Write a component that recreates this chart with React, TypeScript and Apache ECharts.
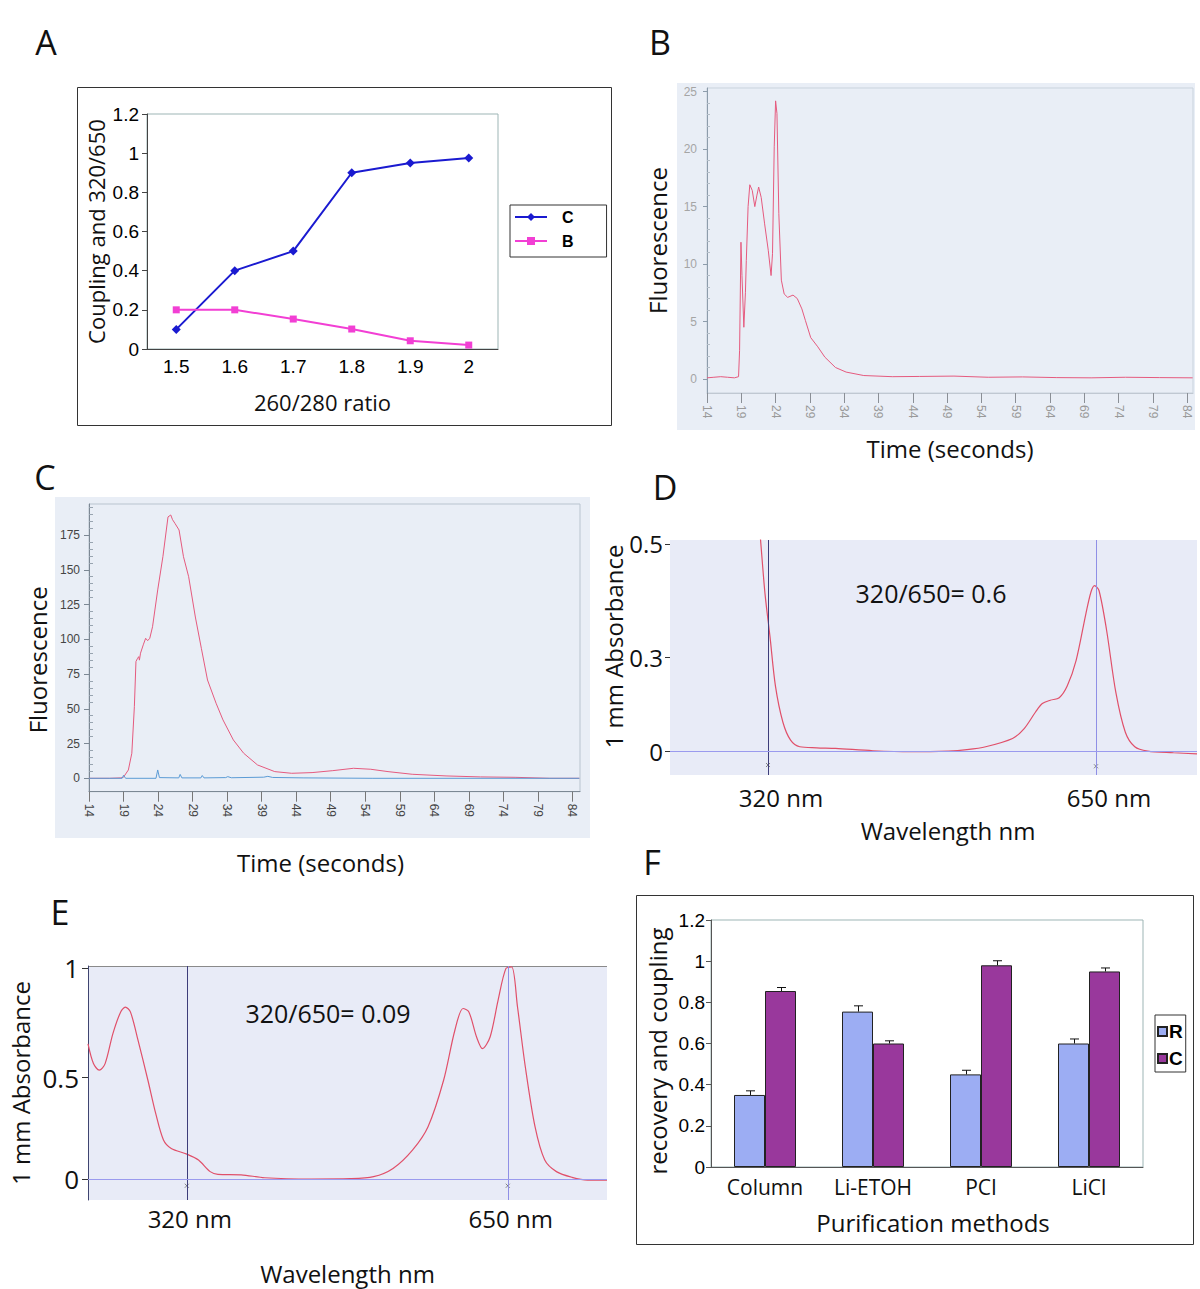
import React, { useEffect, useRef } from 'react';
import * as echarts from 'echarts';

const TITLE_FONT = '"Open Sans", "Noto Sans", sans-serif';
const TICK_FONT = '"Liberation Sans", Arial, sans-serif';

// ---------- Panel A ----------
const ratioCategories = ['1.5', '1.6', '1.7', '1.8', '1.9', '2'];
const couplingSeriesC = [0.1, 0.4, 0.5, 0.9, 0.95, 0.975];
const ratioSeriesB = [0.2, 0.2, 0.153, 0.102, 0.042, 0.02];

// ---------- Panel B ----------
const timeTicks = [14, 19, 24, 29, 34, 39, 44, 49, 54, 59, 64, 69, 74, 79, 84];
const fluorTicksB = [0, 5, 10, 15, 20, 25];
const fluorMinorTicksB = [1, 2, 3, 4, 6, 7, 8, 9, 11, 12, 13, 14, 16, 17, 18, 19, 21, 22, 23, 24];
const fluorescenceB: [number, number][] = [
  [14, 0.1], [15, 0.15], [16, 0.2], [17, 0.15], [18, 0.1], [18.6, 0.2], [18.75, 2.5], [18.95, 11.9],
  [19.1, 9], [19.37, 4.5], [19.6, 7.5], [19.73, 10.3], [19.99, 15], [20.24, 16.9], [20.6, 16.4],
  [20.97, 15], [21.28, 16], [21.53, 16.7], [21.9, 15.8], [22.4, 13.5], [22.93, 11.2], [23.34, 9.0],
  [23.55, 10.9], [23.8, 20.2], [24.0, 24.2], [24.2, 23.1], [24.47, 14.4], [24.84, 8.6], [25.25, 7.4],
  [25.76, 7.1], [26.54, 7.3], [27.16, 7.0], [27.83, 6.1], [28.34, 5.1], [29.12, 3.6], [30.15, 2.8],
  [31.18, 1.9], [32.73, 1.0], [34.28, 0.6], [36.86, 0.3], [41, 0.2], [45, 0.22], [50, 0.25],
  [55, 0.15], [60, 0.18], [65, 0.12], [70, 0.1], [75, 0.15], [80, 0.12], [84.8, 0.1],
];

// ---------- Panel C ----------
const fluorTicksC = [0, 25, 50, 75, 100, 125, 150, 175];
const fluorMinorTicksC = [5, 10, 15, 20, 30, 35, 40, 45, 55, 60, 65, 70, 80, 85, 90, 95, 105, 110, 115, 120,
  130, 135, 140, 145, 155, 160, 165, 170, 180, 185, 190, 195];
const fluorescenceCRed: [number, number][] = [
  [14, 0], [17, 0], [18.6, 0.3], [18.98, 0.7], [19.7, 6], [20.2, 18], [20.57, 51.5], [20.8, 84],
  [21.0, 86], [21.2, 87.5], [21.3, 85], [21.46, 90], [21.86, 96], [22.2, 100.7], [22.5, 99],
  [22.8, 100.7], [23.2, 109], [23.95, 135.5], [24.7, 159.4], [25.44, 188], [25.84, 189.4],
  [26.1, 186], [26.44, 183.4], [27.04, 178.6], [27.68, 159.4], [28.43, 145], [29.4, 116],
  [30.27, 93.5], [31.16, 70.7], [32.4, 54], [33.4, 42], [34.9, 27.6], [36.4, 18], [38.4, 9.6],
  [40.9, 4.8], [43.35, 3.6], [46.3, 4.1], [49.3, 5.5], [52.3, 7.2], [54.8, 6.5], [57.3, 4.8],
  [60.8, 2.9], [65.7, 1.7], [70.7, 1], [75.7, 0.7], [80.7, 0], [85, 0],
];
const fluorescenceCBlue: [number, number][] = [
  [14, 0], [18.8, 0], [19.0, 2.2], [19.3, 0], [23.7, 0], [23.95, 6], [24.2, 0.5], [27.0, 0.3],
  [27.2, 2.8], [27.45, 0.3], [30.2, 0.3], [30.4, 2], [30.65, 0.3], [33.8, 0.5], [34.1, 1.2],
  [34.6, 0.4], [39.3, 0.8], [39.9, 1.4], [40.6, 0.6], [45, 0.3], [55, 0], [85, 0],
];

// ---------- Panel D ----------
const markWavelengths = [320, 650];
const absTicksD = [0, 0.228, 0.5];
const absTickLabelsD = ['0', '0.3', '0.5'];
const ratioTextD = '320/650= 0.6';
const spectrumD: [number, number][] = [
  [306, 0.7], [312.5, 0.51], [317, 0.38], [322, 0.277], [327.5, 0.158], [335, 0.071], [342.7, 0.028],
  [352, 0.012], [369, 0.0095], [388, 0.008], [425.6, 0.0024], [464, 0], [501.7, 0.0016], [520, 0.005],
  [539, 0.012], [566, 0.032], [577.5, 0.055], [589, 0.095], [596, 0.116], [604, 0.124], [613, 0.13],
  [621, 0.158], [630, 0.22], [639.8, 0.332], [645, 0.385], [648.5, 0.4], [653, 0.388], [660.6, 0.293],
  [670, 0.142], [679.5, 0.047], [689, 0.012], [702, 0.0016], [728, -0.0024], [751.6, -0.005],
];
const crossMarksD: [number, number][] = [[320, -0.032], [650, -0.035]];

// ---------- Panel E ----------
const absTicksE = [0, 0.48, 1];
const absTickLabelsE = ['0', '0.5', '1'];
const ratioTextE = '320/650= 0.09';
const spectrumE: [number, number][] = [
  [218.4, 0.64], [224, 0.547], [230, 0.516], [236, 0.547], [244, 0.689], [252, 0.792], [256.8, 0.815],
  [262, 0.792], [269.8, 0.658], [280, 0.468], [288, 0.311], [296, 0.185], [304, 0.145], [320, 0.118],
  [332, 0.09], [344, 0.035], [352, 0.022], [375.8, 0.02], [400, 0.006], [447.8, 0], [487.8, 0.0016],
  [512, 0.011], [532, 0.05], [552, 0.137], [568, 0.248], [584, 0.468], [595.6, 0.705], [604, 0.808],
  [610, 0.792], [617.9, 0.673], [624, 0.618], [631.8, 0.673], [640, 0.847], [648, 0.997], [654, 1.005],
  [660, 0.815], [668, 0.532], [678, 0.248], [688, 0.09], [700, 0.035], [716, 0.008], [732, -0.005],
  [752, -0.005],
];
const crossMarksE: [number, number][] = [[320, -0.032], [650, -0.032]];

// ---------- Panel F ----------
const methods = ['Column', 'Li-ETOH', 'PCI', 'LiCl'];
const recoveryR = [0.35, 0.755, 0.45, 0.6];
const couplingCF = [0.855, 0.6, 0.98, 0.95];
const errorR = [0.02, 0.028, 0.02, 0.022];
const errorC = [0.017, 0.013, 0.022, 0.017];

const BAR_WIDTH = 31;

const pickLabel = (vals: number[], labels: string[]) => (v: number) => {
  const i = vals.findIndex((x) => Math.abs(x - v) < 1e-6);
  return i >= 0 ? labels[i] : '';
};

const titleStyle = (size: number, padding?: number[]) => ({
  fontFamily: TITLE_FONT,
  fontSize: size,
  color: '#111',
  ...(padding ? { padding } : {}),
});

function buildOption(): any {
  const errData: number[][] = [];
  methods.forEach((_, i) => {
    errData.push([i, recoveryR[i], errorR[i], -1]);
    errData.push([i, couplingCF[i], errorC[i], 1]);
  });

  const letter = (t: string, x: number, y: number) => ({
    type: 'text',
    x,
    y,
    style: {
      text: t,
      font: `34px ${TITLE_FONT}`,
      fill: '#111',
      textAlign: 'center',
      textVerticalAlign: 'middle',
    },
  });

  return {
    animation: false,
    backgroundColor: '#ffffff',
    grid: [
      { left: 147, top: 114, width: 351, height: 235, show: true, borderColor: '#9db5b5', borderWidth: 1 },
      { left: 707, top: 88, width: 486, height: 305, show: true, borderColor: '#c9d3dd', borderWidth: 1 },
      { left: 89, top: 504, width: 491, height: 287.7, show: true, borderColor: '#b9c4cf', borderWidth: 1 },
      { left: 670, top: 540, width: 527, height: 235 },
      { left: 88, top: 966, width: 519, height: 234 },
      { left: 711, top: 920, width: 432, height: 247, show: true, borderColor: '#9db5b5', borderWidth: 1 },
    ],
    legend: [
      {
        data: ['A:C', 'A:B'],
        formatter: (n: string) => n.slice(2),
        orient: 'vertical',
        left: 510,
        top: 205,
        itemWidth: 32,
        itemHeight: 10,
        itemGap: 8,
        padding: [4, 33, 8, 4],
        borderColor: '#333',
        borderWidth: 1,
        selectedMode: false,
        textStyle: { fontFamily: TICK_FONT, fontWeight: 'bold', fontSize: 16, color: '#000', padding: [0, 0, 0, 10] },
      },
      {
        data: ['F:R', 'F:C'],
        formatter: (n: string) => n.slice(2),
        orient: 'vertical',
        left: 1155,
        top: 1015,
        icon: 'rect',
        itemWidth: 9,
        itemHeight: 9,
        itemGap: 8,
        padding: [7, 3, 4, 2],
        borderColor: '#333',
        borderWidth: 1,
        selectedMode: false,
        textStyle: { fontFamily: TICK_FONT, fontWeight: 'bold', fontSize: 19, color: '#000', padding: [0, 0, 0, -3] },
      },
    ],
    xAxis: [
      {
        gridIndex: 0,
        type: 'category',
        data: ratioCategories,
        axisLine: { lineStyle: { color: '#444' } },
        axisTick: { length: 5, lineStyle: { color: '#444' } },
        axisLabel: { color: '#000', fontFamily: TICK_FONT, fontSize: 19, margin: 8 },
        name: '260/280 ratio',
        nameLocation: 'middle',
        nameGap: 42,
        nameTextStyle: titleStyle(22),
      },
      {
        gridIndex: 1,
        type: 'value',
        min: 14,
        max: 84.85,
        axisLine: { show: true, onZero: false, lineStyle: { color: '#c0c8d2' } },
        axisTick: { show: true, customValues: timeTicks, length: 10, lineStyle: { color: '#8a8f96' } },
        axisLabel: { customValues: timeTicks, rotate: -90, color: '#9a9a9a', fontSize: 12, fontFamily: TICK_FONT, margin: 12 },
        splitLine: { show: false },
        name: 'Time (seconds)',
        nameLocation: 'middle',
        nameGap: 43,
        nameTextStyle: titleStyle(24),
      },
      {
        gridIndex: 2,
        type: 'value',
        min: 14,
        max: 85.1,
        axisLine: { show: true, onZero: false, lineStyle: { color: '#7c8894' } },
        axisTick: { show: true, customValues: timeTicks, length: 10, lineStyle: { color: '#777' } },
        axisLabel: { customValues: timeTicks, rotate: -90, color: '#444', fontSize: 12, fontFamily: TICK_FONT, margin: 12 },
        splitLine: { show: false },
        name: 'Time (seconds)',
        nameLocation: 'middle',
        nameGap: 59,
        nameTextStyle: titleStyle(24, [0, 28, 0, 0]),
      },
      {
        gridIndex: 3,
        type: 'value',
        min: 221.4,
        max: 751.6,
        axisLine: { show: false, onZero: false },
        axisTick: { show: false },
        axisLabel: {
          customValues: markWavelengths,
          formatter: (v: number) => `${v} nm`,
          fontFamily: TITLE_FONT,
          fontSize: 24,
          color: '#111',
          margin: 10,
          padding: [0, 0, 0, 26],
        },
        splitLine: { show: false },
        name: 'Wavelength nm',
        nameLocation: 'middle',
        nameGap: 43,
        nameTextStyle: titleStyle(24, [0, 0, 0, 29]),
      },
      {
        gridIndex: 4,
        type: 'value',
        min: 218.4,
        max: 752,
        axisLine: { show: false, onZero: false },
        axisTick: { show: false },
        axisLabel: {
          customValues: markWavelengths,
          formatter: (v: number) => `${v} nm`,
          fontFamily: TITLE_FONT,
          fontSize: 24,
          color: '#111',
          margin: 6,
          padding: [0, 0, 0, 6],
        },
        splitLine: { show: false },
        name: 'Wavelength nm',
        nameLocation: 'middle',
        nameGap: 61,
        nameTextStyle: titleStyle(24),
      },
      {
        gridIndex: 5,
        type: 'category',
        data: methods,
        axisLine: { lineStyle: { color: '#555' } },
        axisTick: { length: 6, lineStyle: { color: '#555' } },
        axisLabel: { color: '#111', fontFamily: TITLE_FONT, fontSize: 21, margin: 9 },
        name: 'Purification methods',
        nameLocation: 'middle',
        nameGap: 43,
        nameTextStyle: titleStyle(24, [0, 0, 0, 12]),
      },
    ],
    yAxis: [
      {
        gridIndex: 0,
        type: 'value',
        min: 0,
        max: 1.2,
        interval: 0.2,
        axisLine: { show: true, lineStyle: { color: '#444' } },
        axisTick: { show: true, length: 5, lineStyle: { color: '#444' } },
        splitLine: { show: false },
        axisLabel: { fontFamily: TICK_FONT, fontSize: 19, color: '#000', margin: 8 },
        name: 'Coupling and 320/650',
        nameLocation: 'middle',
        nameGap: 40,
        nameTextStyle: titleStyle(22),
      },
      {
        gridIndex: 1,
        type: 'value',
        position: 'left',
        min: -1.22,
        max: 25.32,
        axisLine: { show: true, onZero: false, lineStyle: { color: '#8d9cab' } },
        axisTick: { show: true, customValues: fluorTicksB, length: 4, lineStyle: { color: '#8d9cab' } },
        axisLabel: { customValues: fluorTicksB, color: '#a5a5a5', fontSize: 12, fontFamily: TICK_FONT, margin: 10 },
        splitLine: { show: false },
        name: 'Fluorescence',
        nameLocation: 'middle',
        nameGap: 38,
        nameTextStyle: titleStyle(24),
      },
      {
        gridIndex: 1,
        type: 'value',
        position: 'left',
        min: -1.22,
        max: 25.32,
        axisLine: { show: false, onZero: false },
        axisTick: { show: true, inside: true, customValues: fluorMinorTicksB, length: 3, lineStyle: { color: '#b4bec8' } },
        axisLabel: { show: false },
        splitLine: { show: false },
      },
      {
        gridIndex: 2,
        type: 'value',
        position: 'left',
        min: -9.64,
        max: 197.3,
        axisLine: { show: true, onZero: false, lineStyle: { color: '#7c8894' } },
        axisTick: { show: true, customValues: fluorTicksC, length: 5, lineStyle: { color: '#7c8894' } },
        axisLabel: { customValues: fluorTicksC, color: '#444', fontSize: 12, fontFamily: TICK_FONT, margin: 9 },
        splitLine: { show: false },
        name: 'Fluorescence',
        nameLocation: 'middle',
        nameGap: 40,
        nameTextStyle: titleStyle(24, [0, 24, 0, 0]),
      },
      {
        gridIndex: 2,
        type: 'value',
        position: 'left',
        min: -9.64,
        max: 197.3,
        axisLine: { show: false, onZero: false },
        axisTick: { show: true, inside: true, customValues: fluorMinorTicksC, length: 4, lineStyle: { color: '#98a4b0' } },
        axisLabel: { show: false },
        splitLine: { show: false },
      },
      {
        gridIndex: 3,
        type: 'value',
        min: -0.056,
        max: 0.5096,
        axisLine: { show: false, onZero: false },
        axisTick: { show: true, customValues: absTicksD, length: 5, lineStyle: { color: '#333' } },
        axisLabel: {
          customValues: absTicksD,
          formatter: pickLabel(absTicksD, absTickLabelsD),
          fontFamily: TITLE_FONT,
          fontSize: 24,
          color: '#111',
          margin: 7,
        },
        splitLine: { show: false },
        name: '1 mm Absorbance',
        nameLocation: 'middle',
        nameGap: 36,
        nameTextStyle: titleStyle(24, [0, 0, 0, 22]),
      },
      {
        gridIndex: 4,
        type: 'value',
        min: -0.0995,
        max: 1.0095,
        axisLine: { show: true, onZero: false, lineStyle: { color: '#3e4470' } },
        axisTick: { show: true, customValues: absTicksE, length: 6, lineStyle: { color: '#333' } },
        axisLabel: {
          customValues: absTicksE,
          formatter: pickLabel(absTicksE, absTickLabelsE),
          fontFamily: TITLE_FONT,
          fontSize: 26,
          color: '#111',
          margin: 9,
        },
        splitLine: { show: false },
        name: '1 mm Absorbance',
        nameLocation: 'middle',
        nameGap: 56,
        nameTextStyle: titleStyle(24),
      },
      {
        gridIndex: 5,
        type: 'value',
        min: 0,
        max: 1.2,
        interval: 0.2,
        axisLine: { show: true, lineStyle: { color: '#555' } },
        axisTick: { show: true, length: 5, lineStyle: { color: '#555' } },
        splitLine: { show: false },
        axisLabel: { fontFamily: TICK_FONT, fontSize: 19, color: '#000', margin: 6 },
        name: 'recovery and coupling',
        nameLocation: 'middle',
        nameGap: 42,
        nameTextStyle: titleStyle(24, [0, 15, 0, 0]),
      },
    ],
    series: [
      {
        name: 'A:C',
        type: 'line',
        xAxisIndex: 0,
        yAxisIndex: 0,
        data: couplingSeriesC,
        color: '#1a1ad0',
        lineStyle: { width: 2, color: '#1a1ad0' },
        itemStyle: { color: '#1a1ad0' },
        symbol: 'diamond',
        symbolSize: 9,
      },
      {
        name: 'A:B',
        type: 'line',
        xAxisIndex: 0,
        yAxisIndex: 0,
        data: ratioSeriesB,
        color: '#f23fd4',
        lineStyle: { width: 2, color: '#f23fd4' },
        itemStyle: { color: '#f23fd4' },
        symbol: 'rect',
        symbolSize: 7,
      },
      {
        type: 'line',
        xAxisIndex: 1,
        yAxisIndex: 1,
        data: fluorescenceB,
        showSymbol: false,
        lineStyle: { color: '#e55a7e', width: 1 },
      },
      {
        type: 'line',
        xAxisIndex: 2,
        yAxisIndex: 3,
        data: fluorescenceCRed,
        showSymbol: false,
        lineStyle: { color: '#e55a7e', width: 1 },
      },
      {
        type: 'line',
        xAxisIndex: 2,
        yAxisIndex: 3,
        data: fluorescenceCBlue,
        showSymbol: false,
        lineStyle: { color: '#5b9bd5', width: 1 },
      },
      {
        type: 'line',
        xAxisIndex: 3,
        yAxisIndex: 5,
        data: spectrumD,
        smooth: 0.3,
        showSymbol: false,
        lineStyle: { color: '#e0506a', width: 1.2 },
        markLine: {
          silent: true,
          symbol: 'none',
          label: { show: false },
          data: [
            { xAxis: markWavelengths[0], lineStyle: { color: '#3d3d7a', width: 1, type: 'solid' } },
            { xAxis: markWavelengths[1], lineStyle: { color: '#8f8fe6', width: 1, type: 'solid' } },
            { yAxis: 0, lineStyle: { color: '#9a9aee', width: 1, type: 'solid' } },
          ],
        },
      },
      {
        type: 'scatter',
        xAxisIndex: 3,
        yAxisIndex: 5,
        data: crossMarksD,
        symbol: 'path://M0,0L10,10M10,0L0,10',
        symbolSize: 4,
        itemStyle: { color: 'none', borderColor: '#666', borderWidth: 1 },
      },
      {
        type: 'line',
        xAxisIndex: 4,
        yAxisIndex: 6,
        data: spectrumE,
        smooth: 0.3,
        showSymbol: false,
        lineStyle: { color: '#e0506a', width: 1.2 },
        markLine: {
          silent: true,
          symbol: 'none',
          label: { show: false },
          data: [
            { xAxis: markWavelengths[0], lineStyle: { color: '#3d3d7a', width: 1, type: 'solid' } },
            { xAxis: markWavelengths[1], lineStyle: { color: '#8f8fe6', width: 1, type: 'solid' } },
            { yAxis: 0, lineStyle: { color: '#9a9aee', width: 1, type: 'solid' } },
          ],
        },
      },
      {
        type: 'scatter',
        xAxisIndex: 4,
        yAxisIndex: 6,
        data: crossMarksE,
        symbol: 'path://M0,0L10,10M10,0L0,10',
        symbolSize: 4,
        itemStyle: { color: 'none', borderColor: '#666', borderWidth: 1 },
      },
      {
        name: 'F:R',
        type: 'bar',
        xAxisIndex: 5,
        yAxisIndex: 7,
        data: recoveryR,
        barWidth: BAR_WIDTH,
        barGap: '0%',
        itemStyle: { color: '#9cadf3', borderColor: '#222', borderWidth: 1 },
      },
      {
        name: 'F:C',
        type: 'bar',
        xAxisIndex: 5,
        yAxisIndex: 7,
        data: couplingCF,
        barWidth: BAR_WIDTH,
        barGap: '0%',
        itemStyle: { color: '#99389c', borderColor: '#222', borderWidth: 1 },
      },
      {
        type: 'custom',
        xAxisIndex: 5,
        yAxisIndex: 7,
        data: errData,
        z: 5,
        renderItem: (params: any, api: any) => {
          const idx = api.value(0);
          const val = api.value(1);
          const err = api.value(2);
          const side = api.value(3);
          const base = api.coord([idx, val]);
          const top = api.coord([idx, val + err]);
          const x = Math.round(base[0] + (side * BAR_WIDTH) / 2) + 0.5;
          return {
            type: 'group',
            children: [
              { type: 'line', shape: { x1: x, y1: base[1], x2: x, y2: top[1] }, style: { stroke: '#111', lineWidth: 1 } },
              { type: 'line', shape: { x1: x - 4.5, y1: top[1], x2: x + 4.5, y2: top[1] }, style: { stroke: '#111', lineWidth: 1 } },
            ],
          };
        },
      },
    ],
    graphic: [
      { type: 'rect', z: -10, shape: { x: 677, y: 83, width: 518, height: 347 }, style: { fill: '#e9eef6' } },
      { type: 'rect', z: -10, shape: { x: 55, y: 497, width: 535, height: 341 }, style: { fill: '#e9eef6' } },
      { type: 'rect', z: -10, shape: { x: 670, y: 540, width: 527, height: 235 }, style: { fill: '#e8ebf7' } },
      { type: 'rect', z: -10, shape: { x: 88, y: 966, width: 519, height: 234 }, style: { fill: '#e8ebf7' } },
      { type: 'line', shape: { x1: 88, y1: 966.5, x2: 607, y2: 966.5 }, style: { stroke: '#8a8a8a', lineWidth: 1 } },
      { type: 'rect', shape: { x: 77.5, y: 87.5, width: 534, height: 338 }, style: { fill: 'none', stroke: '#333', lineWidth: 1 } },
      { type: 'rect', shape: { x: 636.5, y: 895.5, width: 557, height: 349 }, style: { fill: 'none', stroke: '#333', lineWidth: 1 } },
      letter('A', 46, 42),
      letter('B', 660, 42),
      letter('C', 45, 477),
      letter('D', 665, 487),
      letter('E', 60, 912),
      letter('F', 652, 862),
      {
        type: 'text',
        x: 931,
        y: 593,
        style: { text: ratioTextD, font: `25px ${TITLE_FONT}`, fill: '#111', textAlign: 'center', textVerticalAlign: 'middle' },
      },
      {
        type: 'text',
        x: 328,
        y: 1013,
        style: { text: ratioTextE, font: `25px ${TITLE_FONT}`, fill: '#111', textAlign: 'center', textVerticalAlign: 'middle' },
      },
    ],
  };
}

export default function App() {
  const ref = useRef<HTMLDivElement>(null);
  useEffect(() => {
    if (!ref.current) return;
    const chart = echarts.init(ref.current, undefined, { renderer: 'svg' });
    chart.setOption(buildOption());
    return () => chart.dispose();
  }, []);
  return (
    <div
      ref={ref}
      style={{ position: 'absolute', left: 0, top: 0, width: 1200, height: 1289, background: '#fff' }}
    />
  );
}
